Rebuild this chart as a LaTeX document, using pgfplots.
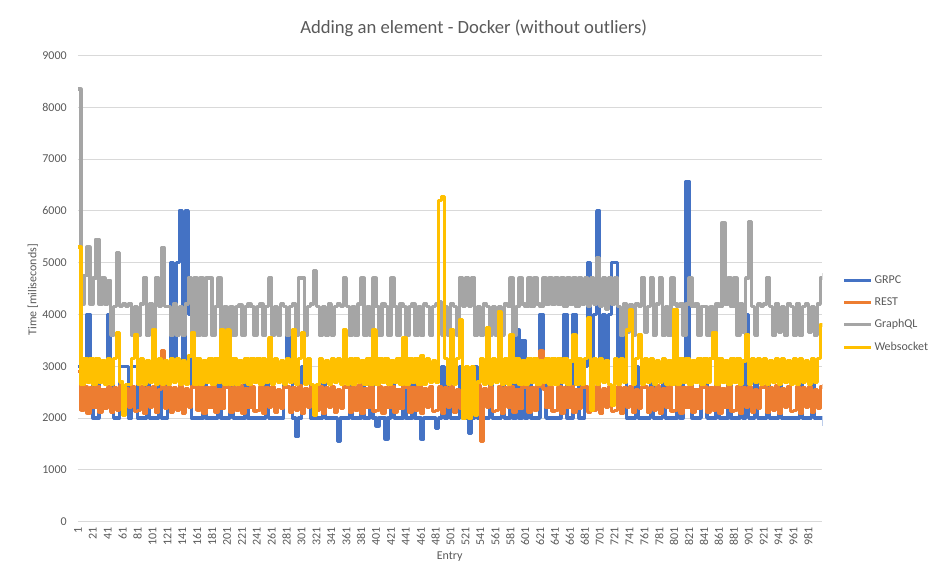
\documentclass[border=0pt]{standalone}
\usepackage{fontspec}
\setmainfont{Carlito}
\usepackage{pgfplots}
\pgfplotsset{compat=1.18}
\definecolor{cGRPC}{HTML}{4472C4}
\definecolor{cREST}{HTML}{ED7D31}
\definecolor{cGQL}{HTML}{A5A5A5}
\definecolor{cWS}{HTML}{FFC000}
\definecolor{txt}{HTML}{595959}
\definecolor{gridc}{HTML}{D9D9D9}
\begin{document}
\begin{tikzpicture}
\begin{scope}[x=0.75pt,y=0.75pt]
\useasboundingbox (0,0) rectangle (930,579);
\node[text=txt,font=\fontsize{14}{16}\selectfont] at (474,551) {Adding an element - Docker (without outliers)};
\node[text=txt,font=\fontsize{9}{11}\selectfont,rotate=90] at (33,289) {Time [miliseconds]};
\node[text=txt,font=\fontsize{9}{11}\selectfont] at (450,22) {Entry};
\end{scope}
\begin{axis}[
  at={(58.5pt,42.75pt)}, anchor=south west,
  width=558.75pt, height=349.875pt, scale only axis,
  xmin=1, xmax=1000, ymin=0, ymax=9000,
  xtick={1,21,...,981}, ytick={0,1000,...,9000},
  /pgf/number format/assume math mode=true,
  /pgf/number format/set thousands separator={},
  xmajorgrids=false, ymajorgrids=true,
  major grid style={draw=gridc, line width=0.75pt},
  axis line style={draw=none},
  tick style={draw=none},
  yticklabel style={text=txt, font=\fontsize{9}{11}\selectfont, inner sep=0pt, xshift=-8.25pt, anchor=east},
  xticklabel style={text=txt, font=\fontsize{9}{11}\selectfont, inner sep=0pt, yshift=-3.75pt, rotate=90, anchor=east},
  every axis plot/.append style={line width=2.6pt, line join=round, const plot},
  legend style={at={(1.027,0.533)}, anchor=north west, draw=none, fill=none,
    font=\fontsize{9}{11}\selectfont, text=txt, row sep=6.2pt, inner sep=0pt,
    nodes={inner sep=1.5pt}},
  legend cell align=left,
  legend image code/.code={\draw[#1, line width=2.25pt] (0pt,0pt) -- (20pt,0pt);},
]
\addplot[cGRPC] table[x expr=\coordindex*4+1, y index=0, header=false, row sep=\\] {
3000\\3000\\3000\\4000\\3000\\2000\\2000\\3000\\3000\\3000\\
4000\\3000\\2000\\2000\\3000\\3000\\3000\\2000\\3000\\3000\\
2000\\2000\\2000\\3000\\2000\\2000\\2000\\3000\\2000\\2000\\
3000\\5000\\3000\\5000\\6000\\3000\\6000\\4000\\2000\\2000\\
2000\\2000\\3000\\2000\\2000\\2000\\2000\\3000\\2000\\2000\\
2000\\3000\\2000\\2000\\2000\\2000\\3000\\2000\\2000\\2000\\
2000\\2000\\2000\\3000\\2000\\2000\\2000\\2000\\2000\\3000\\
4000\\3000\\2000\\1650\\2000\\3000\\3000\\3000\\2000\\2000\\
2000\\2000\\3000\\2000\\2000\\2000\\2000\\1550\\2000\\2000\\
2000\\3000\\2000\\2000\\2000\\3000\\2000\\2000\\3000\\2000\\
1850\\2000\\2000\\1600\\2000\\3000\\2000\\2000\\2000\\3000\\
2000\\2000\\3000\\2000\\2000\\1600\\2000\\2000\\2000\\2000\\
1800\\2000\\3000\\2000\\3000\\2000\\2000\\2000\\3000\\2000\\
2000\\1700\\2000\\3000\\2000\\2000\\2000\\2000\\3000\\2000\\
2000\\2000\\3000\\2000\\2000\\3000\\2000\\3700\\2000\\3500\\
2000\\3000\\2000\\2000\\2000\\4000\\3000\\2000\\2000\\2000\\
2000\\2000\\3000\\4000\\2000\\2000\\4000\\3000\\2000\\2000\\
3000\\5000\\3000\\4000\\6000\\3000\\4000\\3000\\4000\\5000\\
5000\\3000\\4000\\3000\\2000\\2000\\2000\\3000\\2000\\2000\\
2000\\2000\\3000\\2000\\2000\\2000\\3000\\2000\\2000\\2000\\
2000\\3000\\2000\\3000\\6570\\3000\\2000\\2000\\2000\\3000\\
3000\\2000\\2000\\2000\\3000\\2000\\2000\\2000\\3000\\2000\\
2000\\2000\\3000\\2000\\4000\\2000\\2000\\3000\\2000\\2000\\
2000\\3000\\2000\\2000\\2000\\3000\\2000\\2000\\2000\\2000\\
2000\\2000\\3000\\2000\\2000\\2000\\3000\\2000\\2000\\2000\\
1850\\
};
\addlegendentry{GRPC}
\addplot[cREST] table[x expr=\coordindex*4+1, y index=0, header=false, row sep=\\] {
2900\\2150\\2600\\2100\\2580\\2200\\2610\\2120\\2550\\2180\\
2600\\2120\\2580\\2150\\2620\\2100\\2560\\2200\\2600\\2130\\
2150\\2600\\2100\\2580\\2200\\2610\\2120\\2550\\3300\\2180\\
2600\\2120\\2580\\2150\\2620\\2100\\2560\\2200\\2600\\3100\\
2150\\2600\\2100\\2580\\2200\\2610\\2120\\2550\\2180\\2600\\
2600\\2120\\2580\\2150\\2620\\2100\\2560\\2200\\2600\\2130\\
2150\\2600\\2100\\2580\\2200\\2610\\2120\\2550\\2180\\2600\\
2600\\2120\\2580\\2150\\2620\\2100\\2560\\2200\\2600\\2130\\
2150\\2600\\2100\\2580\\2200\\2610\\2120\\2550\\2180\\2600\\
2600\\2120\\2580\\2150\\2620\\2100\\2560\\2200\\2600\\2130\\
2150\\2600\\2100\\2580\\2200\\2610\\2120\\2550\\2180\\2600\\
2600\\2120\\2580\\2150\\2620\\2100\\2560\\2200\\2600\\2130\\
2150\\2600\\2100\\2580\\2200\\2610\\2120\\2550\\2180\\2600\\
2600\\2120\\2580\\2150\\2620\\1550\\2560\\2200\\2600\\2130\\
2150\\2600\\2100\\2580\\2200\\2610\\2120\\2550\\2180\\2600\\
2600\\2120\\2580\\2150\\2620\\3300\\2560\\2200\\2600\\2130\\
2150\\2600\\2100\\2580\\2200\\2610\\2120\\2550\\2180\\2600\\
2600\\2120\\2580\\2150\\2620\\2100\\2560\\2200\\2600\\2130\\
2150\\2600\\2100\\2580\\2200\\2610\\2120\\2550\\2180\\2600\\
2600\\2120\\2580\\2150\\2620\\2100\\2560\\2200\\2600\\2130\\
2150\\2600\\2100\\2580\\2200\\2610\\2120\\2550\\2180\\2600\\
2600\\2120\\2580\\2150\\2620\\2100\\2560\\2200\\2600\\2130\\
2150\\2600\\2100\\2580\\2200\\2610\\2120\\2550\\2180\\2600\\
2600\\2120\\2580\\2150\\2620\\2100\\2560\\2200\\2600\\2130\\
2150\\2600\\2100\\2580\\2200\\2610\\2120\\2550\\2180\\2600\\
2650\\
};
\addlegendentry{REST}
\addplot[cGQL] table[x expr=\coordindex*4+1, y index=0, header=false, row sep=\\] {
8350\\4200\\4750\\5300\\4200\\4700\\5450\\4200\\4700\\4200\\
4650\\3600\\4150\\5200\\4150\\4200\\4150\\4200\\3600\\4150\\
3600\\4200\\4700\\3600\\4200\\3600\\4700\\4150\\5280\\4150\\
4150\\3600\\4200\\3600\\4150\\3600\\4200\\4700\\3600\\4700\\
3600\\4700\\3600\\4700\\4700\\3600\\4150\\4700\\3600\\4150\\
3600\\4150\\3600\\4150\\4180\\3600\\4150\\4200\\4150\\3600\\
4150\\4200\\3600\\4150\\4700\\3600\\4150\\3600\\4200\\4150\\
3600\\4150\\4200\\3600\\4700\\4700\\3600\\4150\\4200\\4850\\
4150\\3600\\4150\\3600\\4200\\3600\\4150\\4200\\4150\\4700\\
4150\\3600\\4150\\3600\\4200\\4700\\3600\\4150\\3600\\4700\\
4150\\3600\\4200\\4150\\3600\\4700\\4150\\3600\\4200\\4150\\
3600\\4150\\4200\\3600\\4150\\3600\\4200\\4150\\3600\\4150\\
4200\\4250\\3600\\4150\\3600\\4200\\4150\\3600\\4700\\4150\\
4700\\4150\\4700\\3600\\4150\\3600\\4200\\4150\\3600\\4150\\
3600\\4150\\3600\\4200\\4150\\4700\\3600\\4150\\4700\\4200\\
4150\\4700\\4150\\4700\\4200\\4150\\4700\\4200\\4700\\4200\\
4700\\4200\\4700\\4150\\4700\\4200\\4700\\4150\\4700\\4200\\
4700\\4150\\4700\\4200\\5100\\4150\\4700\\4100\\4700\\4200\\
4700\\4150\\3600\\4200\\3650\\4180\\3600\\4200\\4150\\4700\\
3650\\4150\\4700\\3600\\4200\\4700\\3600\\4150\\3600\\4700\\
4200\\4150\\4200\\3600\\4200\\4700\\4150\\4200\\3600\\4150\\
4150\\3600\\4150\\3600\\4200\\4150\\5770\\4200\\4700\\4150\\
4700\\3600\\4200\\3650\\4700\\5790\\4150\\3600\\4200\\4150\\
4200\\4700\\4150\\3600\\4200\\3650\\4150\\3600\\4200\\4150\\
3600\\4200\\3600\\4150\\4200\\3650\\4150\\3600\\4200\\4700\\
4800\\
};
\addlegendentry{GraphQL}
\addplot[cWS] table[x expr=\coordindex*4+1, y index=0, header=false, row sep=\\] {
5300\\2650\\3150\\2700\\3150\\2650\\3150\\2700\\3100\\2650\\
3150\\2650\\3150\\3650\\2700\\2050\\2650\\2650\\3150\\3600\\
2650\\3150\\2650\\3100\\2700\\3700\\2650\\3150\\2650\\3100\\
2650\\3150\\2700\\3150\\2650\\3100\\2650\\3200\\3650\\2650\\
3150\\2650\\3100\\2700\\3150\\2650\\3150\\2700\\3700\\2650\\
3700\\2650\\3150\\2650\\3100\\2700\\3150\\2650\\3150\\2700\\
3150\\2650\\3150\\2700\\3550\\2650\\3150\\2700\\3100\\2650\\
3150\\2700\\3700\\2650\\3150\\3650\\2650\\3150\\2650\\2050\\
2650\\3150\\2700\\3100\\2650\\3150\\2700\\3150\\2650\\3700\\
2650\\3150\\2650\\3150\\2700\\3100\\2650\\3150\\2650\\3700\\
2650\\3150\\2700\\3150\\2650\\3100\\2700\\3150\\2650\\3550\\
2650\\3150\\2700\\3150\\2650\\3200\\2650\\3150\\2700\\3100\\
2700\\6200\\6280\\3150\\2650\\3700\\2650\\3150\\3900\\2000\\
3000\\2000\\3000\\2050\\2700\\3150\\2650\\3750\\2650\\3150\\
2700\\4050\\2650\\3150\\2650\\3600\\2700\\3150\\2650\\3100\\
2650\\3150\\2700\\3150\\2650\\3100\\2700\\3150\\2650\\3150\\
2650\\3150\\2700\\3150\\2650\\3100\\3600\\2650\\3150\\2650\\
3150\\3930\\2150\\3150\\2650\\3150\\2700\\3100\\2650\\2250\\
3150\\2650\\3150\\2700\\3700\\4100\\2650\\3150\\3600\\2650\\
3150\\2700\\3150\\2650\\3100\\2700\\3150\\2650\\3100\\2650\\
4100\\2650\\3150\\2700\\3150\\2650\\3100\\2700\\3150\\2650\\
3150\\2700\\3150\\3650\\2650\\3150\\2700\\3100\\2650\\3150\\
2700\\3150\\2650\\3100\\3600\\2650\\3150\\2700\\3150\\2650\\
3150\\2650\\3100\\2700\\3150\\2650\\3150\\2700\\3100\\2650\\
3150\\2650\\3150\\2700\\3100\\2650\\3150\\2700\\3150\\3800\\
3800\\
};
\addlegendentry{Websocket}
\end{axis}
\end{tikzpicture}
\end{document}
